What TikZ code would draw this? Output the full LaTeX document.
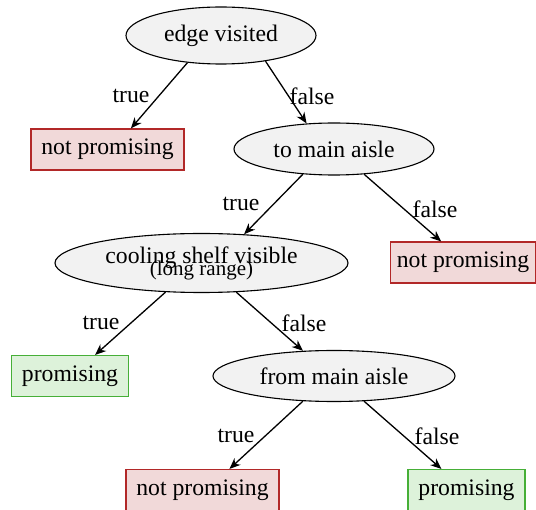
\documentclass[tikz,border=0pt]{standalone}
\usepackage{fontspec}
\setmainfont{Liberation Serif}
\usetikzlibrary{shapes.geometric,arrows.meta}
\definecolor{ellfill}{RGB}{242,242,242}
\definecolor{redfill}{RGB}{241,217,217}
\definecolor{redline}{RGB}{178,40,40}
\definecolor{greenfill}{RGB}{221,242,218}
\definecolor{greenline}{RGB}{70,175,55}
\begin{document}
\begin{tikzpicture}[x=1pt,y=-1pt,
  every node/.style={font=\fontsize{23.7}{28}\selectfont, inner sep=0pt},
  test/.style={ellipse, draw=black, fill=ellfill, line width=1.1pt},
  bad/.style={rectangle, draw=redline, fill=redfill, line width=1.1pt, minimum height=41pt},
  good/.style={rectangle, draw=greenline, fill=greenfill, line width=1.1pt, minimum height=41pt},
  lbl/.style={},
  arr/.style={-{Stealth[length=11pt,width=9pt,inset=3.5pt]}, line width=1.3pt}
]
\useasboundingbox (0,0) rectangle (536,510);
\node[test, minimum width=190pt, minimum height=57pt] (ev) at (221,35.5) {edge visited};
\node[bad, minimum width=153pt] (np1) at (107.5,149.5) {not promising};
\node[test, minimum width=200pt, minimum height=52pt] (tm) at (334,149) {to main aisle};
\node[test, minimum width=293pt, minimum height=59pt, align=center] (cs) at (201.5,263)
  {cooling shelf visible\\[-16pt]{\fontsize{21}{25}\selectfont (long range)}};
\node[bad, minimum width=145pt] (np2) at (463,262.5) {not promising};
\node[good, minimum width=117pt] (pr1) at (70,376) {promising};
\node[test, minimum width=242pt, minimum height=51pt] (fm) at (334,376) {from main aisle};
\node[bad, minimum width=153pt] (np3) at (202.5,490) {not promising};
\node[good, minimum width=117pt] (pr2) at (466.5,490) {promising};

\draw[arr] (ev.219) -- (np1.42);
\draw[arr] (ev.330) -- (tm.137);
\draw[arr] (tm.219) -- (cs.34);
\draw[arr] (tm.320) -- (np2.136);
\draw[arr] (cs.219) -- (pr1.40);
\draw[arr] (cs.320) -- (fm.141);
\draw[arr] (fm.219) -- (np3.38);
\draw[arr] (fm.320) -- (pr2.140);

\node[lbl] (l1) at (131,96) {true};
\node[lbl] (l2) at (312,96) {false};
\node[lbl] (l3) at (241,204) {true};
\node[lbl] (l4) at (435,209) {false};
\node[lbl] (l5) at (101,323) {true};
\node[lbl] (l6) at (304,323) {false};
\node[lbl] (l7) at (236,436) {true};
\node[lbl] (l8) at (437,436) {false};
\end{tikzpicture}
\end{document}
